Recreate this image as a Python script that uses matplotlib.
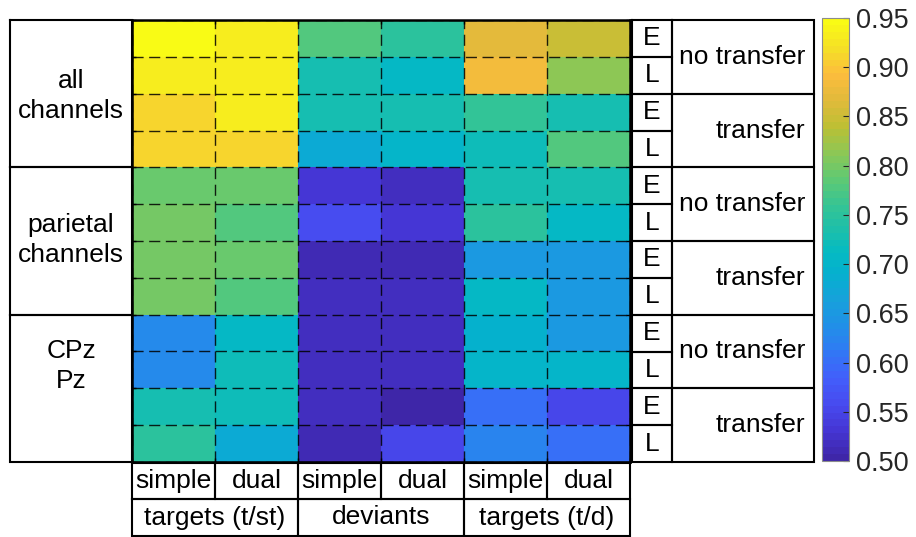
import numpy as np
import matplotlib
matplotlib.use('Agg')
import matplotlib.pyplot as plt
from matplotlib.colors import LinearSegmentedColormap, ListedColormap

plt.rcParams['font.family'] = ['Liberation Sans', 'DejaVu Sans']

# decoding accuracy per row (channel set x transfer x phase) and column (task x condition)
channel_sets = ['all\nchannels', 'parietal\nchannels', 'CPz\nPz']
transfer_labels = ['no transfer', 'transfer']
phases = ['E', 'L']
conditions = ['simple', 'dual']
tasks = ['targets (t/st)', 'deviants', 'targets (t/d)']

acc = np.array([
    [0.950, 0.930, 0.780, 0.750, 0.870, 0.850],
    [0.930, 0.930, 0.730, 0.710, 0.880, 0.810],
    [0.910, 0.930, 0.730, 0.730, 0.760, 0.730],
    [0.910, 0.910, 0.680, 0.700, 0.720, 0.780],
    [0.795, 0.795, 0.530, 0.520, 0.730, 0.730],
    [0.800, 0.780, 0.560, 0.530, 0.750, 0.710],
    [0.800, 0.795, 0.510, 0.510, 0.650, 0.650],
    [0.800, 0.780, 0.520, 0.520, 0.710, 0.650],
    [0.630, 0.710, 0.515, 0.515, 0.690, 0.650],
    [0.630, 0.720, 0.515, 0.515, 0.700, 0.700],
    [0.730, 0.720, 0.520, 0.505, 0.600, 0.550],
    [0.750, 0.680, 0.510, 0.550, 0.620, 0.600],
])
vmin, vmax = 0.50, 0.95

# parula-like colour map, 64 levels
anchors = [
    (0.000, (0.243, 0.150, 0.660)),
    (0.060, (0.270, 0.210, 0.830)),
    (0.120, (0.280, 0.290, 0.935)),
    (0.180, (0.260, 0.370, 0.985)),
    (0.240, (0.190, 0.470, 0.960)),
    (0.300, (0.130, 0.560, 0.910)),
    (0.360, (0.090, 0.630, 0.860)),
    (0.420, (0.020, 0.690, 0.810)),
    (0.470, (0.020, 0.730, 0.760)),
    (0.530, (0.120, 0.750, 0.660)),
    (0.580, (0.210, 0.770, 0.580)),
    (0.640, (0.380, 0.790, 0.450)),
    (0.700, (0.560, 0.780, 0.330)),
    (0.760, (0.740, 0.750, 0.200)),
    (0.820, (0.880, 0.730, 0.230)),
    (0.880, (0.990, 0.740, 0.240)),
    (0.940, (0.960, 0.880, 0.150)),
    (1.000, (0.977, 0.984, 0.081)),
]
smooth = LinearSegmentedColormap.from_list('parula_like', anchors)
cmap = ListedColormap(smooth(np.linspace(0, 1, 64)))

W, H = 916, 537
fig = plt.figure(figsize=(W / 100, H / 100), dpi=100)


def frac(x0, y0, x1, y1):
    return [x0 / W, 1 - y1 / H, (x1 - x0) / W, (y1 - y0) / H]


# layout in pixels
hx0, hx1, hy0, hy1 = 132, 630, 20, 462
nrows, ncols = acc.shape
rh = (hy1 - hy0) / nrows
cw = (hx1 - hx0) / ncols

ax = fig.add_axes(frac(hx0, hy0, hx1, hy1))
mesh = ax.pcolormesh(np.arange(ncols + 1), np.arange(nrows + 1), acc,
                     cmap=cmap, vmin=vmin, vmax=vmax)
ax.set_xlim(0, ncols)
ax.set_ylim(nrows, 0)
ax.set_xticks(np.arange(ncols + 1))
ax.set_yticks(np.arange(nrows + 1))
ax.set_xticklabels([])
ax.set_yticklabels([])
ax.tick_params(direction='in', length=3, width=1, top=True, right=True)
ax.grid(True, color='black', linestyle=(0, (8, 4)), linewidth=1.0, alpha=0.85)
for s in ax.spines.values():
    s.set_linewidth(1.8)

# colour bar
cax = fig.add_axes(frac(822, 18, 849, 461))
cb = fig.colorbar(mesh, cax=cax, ticks=np.arange(0.50, 0.951, 0.05))
cb.ax.set_yticklabels([f'{t:.2f}' for t in np.arange(0.50, 0.951, 0.05)])
cb.ax.tick_params(direction='in', length=4, width=0.8, labelsize=19.5,
                  labelcolor='#262626', color='#262626', pad=5)
cb.outline.set_edgecolor('#8c8c8c')
cb.outline.set_linewidth(0.8)

# label boxes drawn in pixel space
ov = fig.add_axes([0, 0, 1, 1], facecolor='none')
ov.set_xlim(0, W)
ov.set_ylim(H, 0)
ov.axis('off')
lw = 1.5
fs = 19


def box(x0, y0, x1, y1):
    ov.plot([x0, x1, x1, x0, x0], [y0, y0, y1, y1, y0], color='black', lw=lw,
            solid_joinstyle='miter')


# left: channel sets
gh = (hy1 - hy0) / len(channel_sets)
label_y = [96, 240, 366]
for i, name in enumerate(channel_sets):
    y0 = hy0 + i * gh
    box(10, y0, hx0, y0 + gh)
    ov.text((10 + hx0) / 2, label_y[i], name, ha='center', va='center',
            fontsize=fs, linespacing=1.3)

# right: phase and transfer labels
ex0, ex1, tx1 = 632, 672, 814
for r in range(nrows):
    y0 = hy0 + r * rh
    box(ex0, y0, ex1, y0 + rh)
    ov.text((ex0 + ex1) / 2, y0 + rh / 2, phases[r % 2], ha='center',
            va='center', fontsize=fs)
for k in range(nrows // 2):
    y0 = hy0 + 2 * k * rh
    box(ex1, y0, tx1, y0 + 2 * rh)
    lab = transfer_labels[k % 2]
    ov.text(tx1 - 9, y0 + rh, lab, ha='right', va='center', fontsize=fs)

# bottom: conditions and tasks
by0, by1, by2 = 463, 499, 536
for c in range(ncols):
    x0 = hx0 + c * cw
    box(x0, by0, x0 + cw, by1)
    ov.text(x0 + cw / 2, (by0 + by1) / 2, conditions[c % 2], ha='center',
            va='center', fontsize=fs)
for t, name in enumerate(tasks):
    x0 = hx0 + 2 * t * cw
    box(x0, by1, x0 + 2 * cw, by2)
    ov.text(x0 + cw, (by1 + by2) / 2, name, ha='center', va='center',
            fontsize=fs)

fig.savefig('out.png', dpi=100)
